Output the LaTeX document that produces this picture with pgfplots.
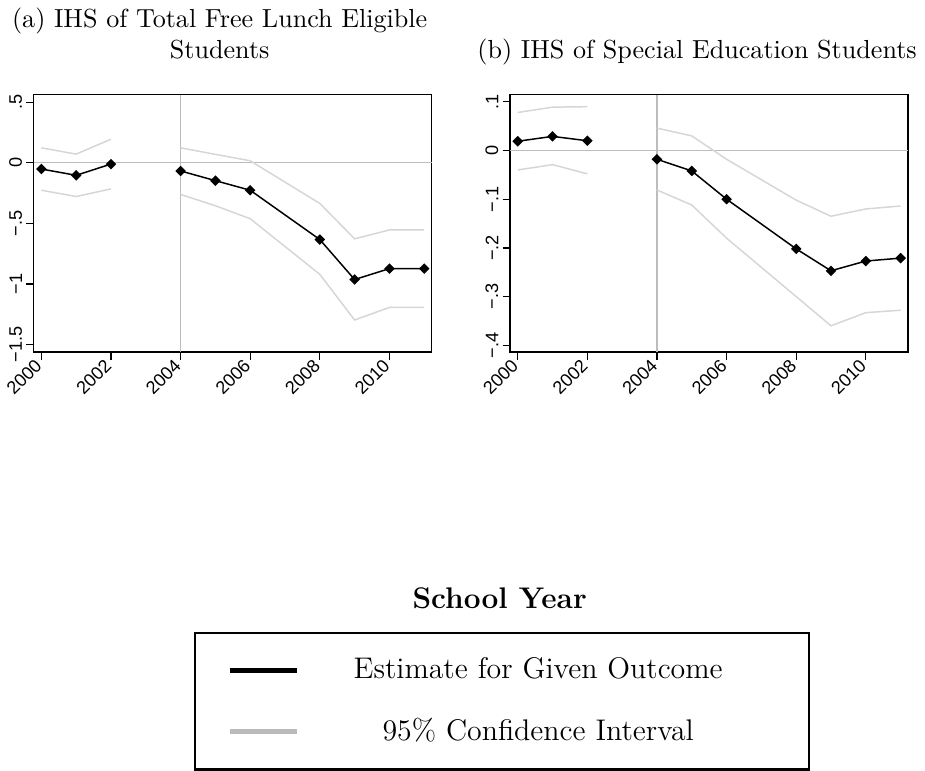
\documentclass[border=0pt]{standalone}
\usepackage{fontspec}
\usepackage{pgfplots}
\usepackage{pgfplotstable}
\pgfplotsset{compat=1.18}
\newfontfamily\ticksf{Liberation Sans}

\definecolor{refgray}{gray}{0.74}
\definecolor{cigray}{gray}{0.84}
\definecolor{leggray}{gray}{0.73}

% Event-study estimates and 95% bounds (2003 is the omitted base year)
\pgfplotstableread{
year est lo hi
2000 -0.052 -0.227 0.123
2001 -0.104 -0.279 0.071
2002 -0.011 -0.216 0.194
2003 nan nan nan
2004 -0.068 -0.262 0.123
2005 -0.148 -0.355 0.069
2006 -0.227 -0.462 0.016
2008 -0.634 -0.921 -0.336
2009 -0.964 -1.298 -0.628
2010 -0.874 -1.194 -0.555
2011 -0.874 -1.194 -0.555
}\lunch

\pgfplotstableread{
year est lo hi
2000 0.019 -0.040 0.078
2001 0.029 -0.029 0.089
2002 0.020 -0.048 0.090
2003 nan nan nan
2004 -0.018 -0.081 0.046
2005 -0.042 -0.112 0.030
2006 -0.100 -0.180 -0.018
2008 -0.202 -0.300 -0.102
2009 -0.247 -0.360 -0.135
2010 -0.227 -0.333 -0.120
2011 -0.221 -0.328 -0.114
}\sped

\pgfplotsset{
  stata/.style={
    scale only axis, width=160pt, height=103.6pt,
    xmin=1999.78, xmax=2011.21,
    xtick={2000,2002,2004,2006,2008,2010},
    xticklabels={2000,2002,2004,2006,2008,2010},
    axis line style={line width=0.6pt},
    tick style={black, line width=0.5pt},
    major tick length=3pt, tick align=outside,
    xtick pos=left, ytick pos=left,
    xticklabel style={font=\ticksf\fontsize{7.3}{9}\selectfont, rotate=45, anchor=east, inner sep=1.5pt},
    yticklabel style={font=\ticksf\fontsize{7.3}{9}\selectfont, rotate=90, anchor=south, inner sep=1.5pt},
    unbounded coords=jump, clip=false,
  },
  refline/.style={refgray, line width=0.5pt, forget plot},
  ciline/.style={cigray, line width=0.6pt, forget plot},
  estline/.style={black, line width=0.6pt, mark=square*, mark size=1.2pt,
    mark options={rotate=45}, forget plot},
}

\begin{document}
\begin{tikzpicture}
\path (0,0) rectangle (370pt,-309.2pt);

% panel titles
\begin{scope}[font=\fontsize{10.5}{12.6}\selectfont]
\node[anchor=base] at (88pt,-10.4pt) {(a) IHS of Total Free Lunch Eligible};
\node[anchor=base] at (88pt,-22.6pt) {Students};
\node[anchor=base] at (280pt,-22.6pt) {(b) IHS of Special Education Students};
\end{scope}

\begin{axis}[stata, at={(13.2pt,-37.2pt)}, anchor=north west,
  ymin=-1.563, ymax=0.563,
  ytick={-1.5,-1,-0.5,0,0.5},
  yticklabels={−1.5,−1,−.5,0,.5},
  legend style={at={(0.4025,-1.086)}, anchor=north west, draw=black, line width=1pt,
    font=\large, row sep=10.4pt, inner xsep=13pt, inner ysep=8pt,
    nodes={text width=188pt, align=center}},
  legend image code/.code={\draw[#1] (0pt,0pt) -- (27pt,0pt);},
]
\addplot[refline] coordinates {(2004,-1.563) (2004,0.563)};
\addplot[refline] coordinates {(1999.78,0) (2011.21,0)};
\addplot[ciline] table[x=year,y=hi]{\lunch};
\addplot[ciline] table[x=year,y=lo]{\lunch};
\addplot[estline] table[x=year,y=est]{\lunch};
\addlegendimage{black, line width=2pt}
\addlegendentry{Estimate for Given Outcome}
\addlegendimage{leggray, line width=1.7pt}
\addlegendentry{95\% Confidence Interval}
\end{axis}

\begin{axis}[stata, at={(204.8pt,-37.2pt)}, anchor=north west,
  ymin=-0.414, ymax=0.115,
  ytick={-0.4,-0.3,-0.2,-0.1,0,0.1},
  yticklabels={−.4,−.3,−.2,−.1,0,.1},
]
\addplot[refline] coordinates {(2004,-0.414) (2004,0.115)};
\addplot[refline] coordinates {(1999.78,0) (2011.21,0)};
\addplot[ciline] table[x=year,y=hi]{\sped};
\addplot[ciline] table[x=year,y=lo]{\sped};
\addplot[estline] table[x=year,y=est]{\sped};
\end{axis}

\node[anchor=base, font=\large\bfseries] at (200.6pt,-244pt) {School Year};
\end{tikzpicture}
\end{document}
